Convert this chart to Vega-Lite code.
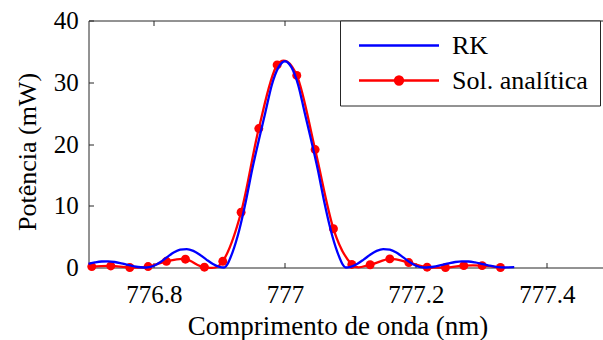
{
  "$schema": "https://vega.github.io/schema/vega-lite/v6.json",
  "width": 515,
  "height": 247,
  "autosize": "none",
  "padding": {"left": 88.5, "top": 20.5, "right": 0, "bottom": 72.5},
  "background": "white",
  "config": {
    "font": "Liberation Serif",
    "view": {"stroke": null},
    "style": {
      "guide-label": {"font": "Liberation Serif"},
      "guide-title": {"font": "Liberation Serif"}
    },
    "axis": {
      "grid": false,
      "domainColor": "#262626",
      "tickColor": "#262626",
      "domainWidth": 1,
      "tickWidth": 1,
      "labelFont": "Liberation Serif",
      "titleFont": "Liberation Serif",
      "labelColor": "#000000",
      "titleColor": "#000000",
      "labelFontSize": 25,
      "titleFontSize": 26,
      "titleFontWeight": "normal"
    }
  },
  "datasets": {
    "rk": [
      {"lambda": 776.70, "power": 0.6, "series": "RK"},
      {"lambda": 776.71, "power": 0.83, "series": "RK"},
      {"lambda": 776.72, "power": 0.97, "series": "RK"},
      {"lambda": 776.73, "power": 0.99, "series": "RK"},
      {"lambda": 776.74, "power": 0.89, "series": "RK"},
      {"lambda": 776.75, "power": 0.68, "series": "RK"},
      {"lambda": 776.76, "power": 0.43, "series": "RK"},
      {"lambda": 776.77, "power": 0.2, "series": "RK"},
      {"lambda": 776.78, "power": 0.04, "series": "RK"},
      {"lambda": 776.788, "power": 0, "series": "RK"},
      {"lambda": 776.79, "power": 0.01, "series": "RK"},
      {"lambda": 776.80, "power": 0.29, "series": "RK"},
      {"lambda": 776.81, "power": 0.9, "series": "RK"},
      {"lambda": 776.82, "power": 1.68, "series": "RK"},
      {"lambda": 776.83, "power": 2.41, "series": "RK"},
      {"lambda": 776.84, "power": 2.88, "series": "RK"},
      {"lambda": 776.85, "power": 2.99, "series": "RK"},
      {"lambda": 776.86, "power": 2.69, "series": "RK"},
      {"lambda": 776.87, "power": 2.06, "series": "RK"},
      {"lambda": 776.88, "power": 1.28, "series": "RK"},
      {"lambda": 776.89, "power": 0.57, "series": "RK"},
      {"lambda": 776.90, "power": 0.1, "series": "RK"},
      {"lambda": 776.907, "power": 0, "series": "RK"},
      {"lambda": 776.91, "power": 0.2, "series": "RK"},
      {"lambda": 776.92, "power": 2.5, "series": "RK"},
      {"lambda": 776.93, "power": 6.0, "series": "RK"},
      {"lambda": 776.94, "power": 10.6, "series": "RK"},
      {"lambda": 776.95, "power": 15.9, "series": "RK"},
      {"lambda": 776.96, "power": 20.6, "series": "RK"},
      {"lambda": 776.97, "power": 25.1, "series": "RK"},
      {"lambda": 776.98, "power": 29.6, "series": "RK"},
      {"lambda": 776.99, "power": 32.4, "series": "RK"},
      {"lambda": 777.00, "power": 33.4, "series": "RK"},
      {"lambda": 777.01, "power": 32.4, "series": "RK"},
      {"lambda": 777.02, "power": 29.6, "series": "RK"},
      {"lambda": 777.03, "power": 25.1, "series": "RK"},
      {"lambda": 777.04, "power": 20.6, "series": "RK"},
      {"lambda": 777.05, "power": 15.9, "series": "RK"},
      {"lambda": 777.06, "power": 10.6, "series": "RK"},
      {"lambda": 777.07, "power": 6.0, "series": "RK"},
      {"lambda": 777.08, "power": 2.5, "series": "RK"},
      {"lambda": 777.09, "power": 0.2, "series": "RK"},
      {"lambda": 777.093, "power": 0, "series": "RK"},
      {"lambda": 777.10, "power": 0.1, "series": "RK"},
      {"lambda": 777.11, "power": 0.57, "series": "RK"},
      {"lambda": 777.12, "power": 1.28, "series": "RK"},
      {"lambda": 777.13, "power": 2.06, "series": "RK"},
      {"lambda": 777.14, "power": 2.69, "series": "RK"},
      {"lambda": 777.15, "power": 2.99, "series": "RK"},
      {"lambda": 777.16, "power": 2.88, "series": "RK"},
      {"lambda": 777.17, "power": 2.41, "series": "RK"},
      {"lambda": 777.18, "power": 1.68, "series": "RK"},
      {"lambda": 777.19, "power": 0.9, "series": "RK"},
      {"lambda": 777.20, "power": 0.29, "series": "RK"},
      {"lambda": 777.21, "power": 0.01, "series": "RK"},
      {"lambda": 777.212, "power": 0, "series": "RK"},
      {"lambda": 777.22, "power": 0.04, "series": "RK"},
      {"lambda": 777.23, "power": 0.2, "series": "RK"},
      {"lambda": 777.24, "power": 0.43, "series": "RK"},
      {"lambda": 777.25, "power": 0.68, "series": "RK"},
      {"lambda": 777.26, "power": 0.89, "series": "RK"},
      {"lambda": 777.27, "power": 0.99, "series": "RK"},
      {"lambda": 777.28, "power": 0.97, "series": "RK"},
      {"lambda": 777.29, "power": 0.83, "series": "RK"},
      {"lambda": 777.30, "power": 0.6, "series": "RK"},
      {"lambda": 777.31, "power": 0.36, "series": "RK"},
      {"lambda": 777.32, "power": 0.14, "series": "RK"},
      {"lambda": 777.33, "power": 0.02, "series": "RK"},
      {"lambda": 777.335, "power": 0, "series": "RK"},
      {"lambda": 777.34, "power": 0.02, "series": "RK"},
      {"lambda": 777.35, "power": 0.05, "series": "RK"}
    ],
    "sol": [
      {"lambda": 776.705, "power": 0.15, "series": "Sol. analítica"},
      {"lambda": 776.734, "power": 0.25, "series": "Sol. analítica"},
      {"lambda": 776.763, "power": 0.0, "series": "Sol. analítica"},
      {"lambda": 776.791, "power": 0.15, "series": "Sol. analítica"},
      {"lambda": 776.819, "power": 1.0, "series": "Sol. analítica"},
      {"lambda": 776.848, "power": 1.35, "series": "Sol. analítica"},
      {"lambda": 776.877, "power": 0.05, "series": "Sol. analítica"},
      {"lambda": 776.905, "power": 1.0, "series": "Sol. analítica"},
      {"lambda": 776.933, "power": 8.95, "series": "Sol. analítica"},
      {"lambda": 776.960, "power": 22.5, "series": "Sol. analítica"},
      {"lambda": 776.988, "power": 32.8, "series": "Sol. analítica"},
      {"lambda": 777.018, "power": 31.1, "series": "Sol. analítica"},
      {"lambda": 777.046, "power": 19.1, "series": "Sol. analítica"},
      {"lambda": 777.074, "power": 6.27, "series": "Sol. analítica"},
      {"lambda": 777.102, "power": 0.5, "series": "Sol. analítica"},
      {"lambda": 777.130, "power": 0.45, "series": "Sol. analítica"},
      {"lambda": 777.160, "power": 1.4, "series": "Sol. analítica"},
      {"lambda": 777.189, "power": 0.8, "series": "Sol. analítica"},
      {"lambda": 777.217, "power": 0.05, "series": "Sol. analítica"},
      {"lambda": 777.245, "power": 0.0, "series": "Sol. analítica"},
      {"lambda": 777.273, "power": 0.3, "series": "Sol. analítica"},
      {"lambda": 777.301, "power": 0.3, "series": "Sol. analítica"},
      {"lambda": 777.329, "power": 0.0, "series": "Sol. analítica"}
    ]
  },
  "layer": [
    {
      "data": {"name": "sol"},
      "mark": {"type": "line", "interpolate": "cardinal", "strokeWidth": 2.3},
      "encoding": {
        "x": {
          "field": "lambda", "type": "quantitative",
          "scale": {"domain": [776.7, 777.4863], "nice": false, "zero": false},
          "axis": {
            "orient": "bottom",
            "values": [776.8, 777, 777.2, 777.4],
            "format": "~g",
            "tickSize": -5,
            "labelPadding": 19.7,
            "labelFont": "Liberation Serif",
            "titleFont": "Liberation Serif",
            "title": "Comprimento de onda (nm)",
            "titleFontSize": 27,
            "titleX": 249,
            "titleY": 67,
            "titleBaseline": "alphabetic",
            "titleAnchor": "middle"
          }
        },
        "y": {
          "field": "power", "type": "quantitative",
          "scale": {"domain": [0, 40], "nice": false},
          "axis": {
            "values": [0, 10, 20, 30, 40],
            "tickSize": -5,
            "labelPadding": 15.2,
            "labelFont": "Liberation Serif",
            "titleFont": "Liberation Serif",
            "title": "Potência (mW)",
            "titleX": -53,
            "titleY": 131,
            "titleAngle": -90,
            "titleAlign": "center",
            "titleBaseline": "alphabetic"
          }
        },
        "color": {
          "field": "series", "type": "nominal",
          "scale": {"domain": ["RK", "Sol. analítica"], "range": ["#0000ff", "#ff0000"]},
          "legend": {
            "orient": "none",
            "legendX": 251.5,
            "legendY": 0,
            "title": null,
            "symbolType": "M-0.6,0H7.4",
            "symbolSize": 400,
            "symbolStrokeWidth": 2.3,
            "labelFont": "Liberation Serif",
            "labelFontSize": 26,
            "labelColor": "#000000",
            "labelOffset": 74,
            "labelLimit": 0,
            "labelExpr": "datum.label + '\u00a0\u00a0\u00a0\u00a0\u00a0'",
            "padding": 12,
            "rowPadding": 9,
            "strokeColor": "#262626",
            "fillColor": "white",
            "encode": {
              "symbols": {
                "update": {
                  "shape": {"signal": "datum.value === 'RK' ? 'M-0.6,0H7.4' : 'M-0.6,0H7.4M3.8,0A0.4,0.4,0,1,1,3.0,0A0.4,0.4,0,1,1,3.8,0Z'"},
                  "fill": {"signal": "datum.value === 'RK' ? 'transparent' : '#ff0000'"}
                }
              }
            }
          }
        }
      }
    },
    {
      "data": {"name": "sol"},
      "mark": {"type": "point", "filled": true, "size": 80, "opacity": 1, "color": "#ff0000"},
      "encoding": {
        "x": {"field": "lambda", "type": "quantitative", "axis": null},
        "y": {"field": "power", "type": "quantitative"}
      }
    },
    {
      "data": {"name": "rk"},
      "mark": {"type": "line", "interpolate": "monotone", "strokeWidth": 2.3},
      "encoding": {
        "x": {
          "field": "lambda", "type": "quantitative",
          "axis": {
            "orient": "top",
            "values": [776.8, 777, 777.2, 777.4],
            "labels": false,
            "tickSize": -5,
            "title": null
          }
        },
        "y": {"field": "power", "type": "quantitative"},
        "color": {"field": "series", "type": "nominal"}
      }
    }
  ],
  "resolve": {"axis": {"x": "independent"}}
}
